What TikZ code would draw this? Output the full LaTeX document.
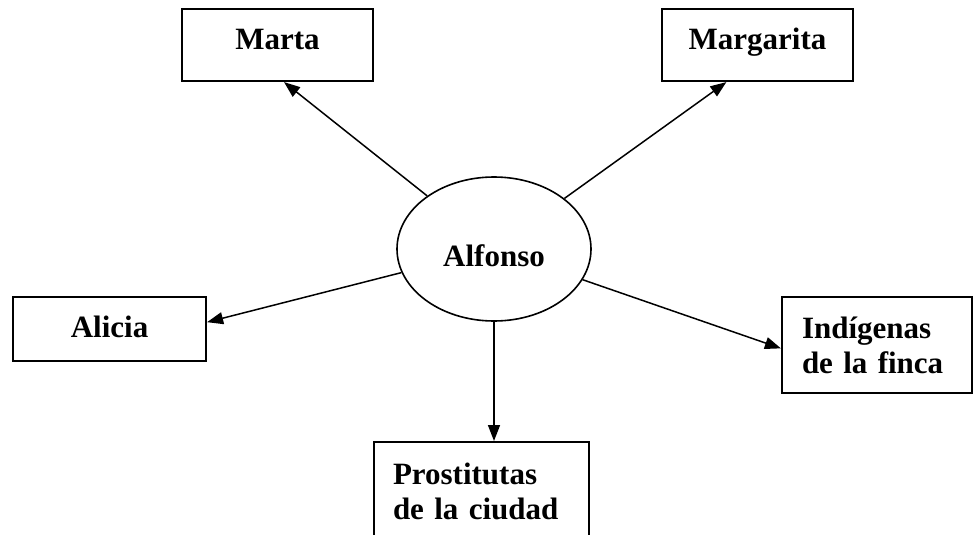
\documentclass[tikz,border=0pt]{standalone}
\usepackage{fontspec}
\setmainfont{Liberation Serif}
\usetikzlibrary{arrows.meta,shapes.geometric}

\begin{document}
\begin{tikzpicture}[x=1pt,y=-1pt,
  persona/.style={draw,line width=2.2pt,inner sep=0pt,font=\bfseries\fontsize{31}{35}\selectfont},
  grupo/.style={persona,align=left,inner xsep=20pt,text width=150pt},
  link/.style={line width=1.5pt,-{Triangle[length=16pt,width=12pt]}}]
\useasboundingbox (0,0) rectangle (974,535);
\clip (0,0) rectangle (974,535);

\node[draw,ellipse,line width=1.6pt,minimum width=194pt,minimum height=144pt,
  text height=22pt,text depth=0pt,
  font=\bfseries\fontsize{31}{35}\selectfont] (alfonso) at (494,249) {\raisebox{-6pt}{Alfonso}};

\node[persona,minimum width=191pt,minimum height=72pt,text height=22pt,text depth=12pt] (marta) at (277.5,45) {Marta};
\node[persona,minimum width=191pt,minimum height=72pt,text height=22pt,text depth=12pt] (margarita) at (757.5,45) {Margarita};
\node[persona,minimum width=193pt,minimum height=64pt,text height=22pt,text depth=6pt] (alicia) at (109.5,329) {Alicia};
\node[grupo,minimum height=96pt] (indigenas) at (877,345) {Indígenas\\de la finca};
\node[grupo,anchor=north,inner xsep=19pt,text width=177pt,inner ysep=21pt] (prostitutas) at (481.5,441) {Prostitutas\\de la ciudad};

\draw[link] (alfonso) -- (marta.-80);
\draw[link] (alfonso) -- (margarita.-130);
\draw[link] (alfonso) -- (alicia.4);
\draw[link] (alfonso) -- (indigenas.182);
\draw[link] (alfonso.south) -- (alfonso.south |- prostitutas.north);
\end{tikzpicture}
\end{document}
